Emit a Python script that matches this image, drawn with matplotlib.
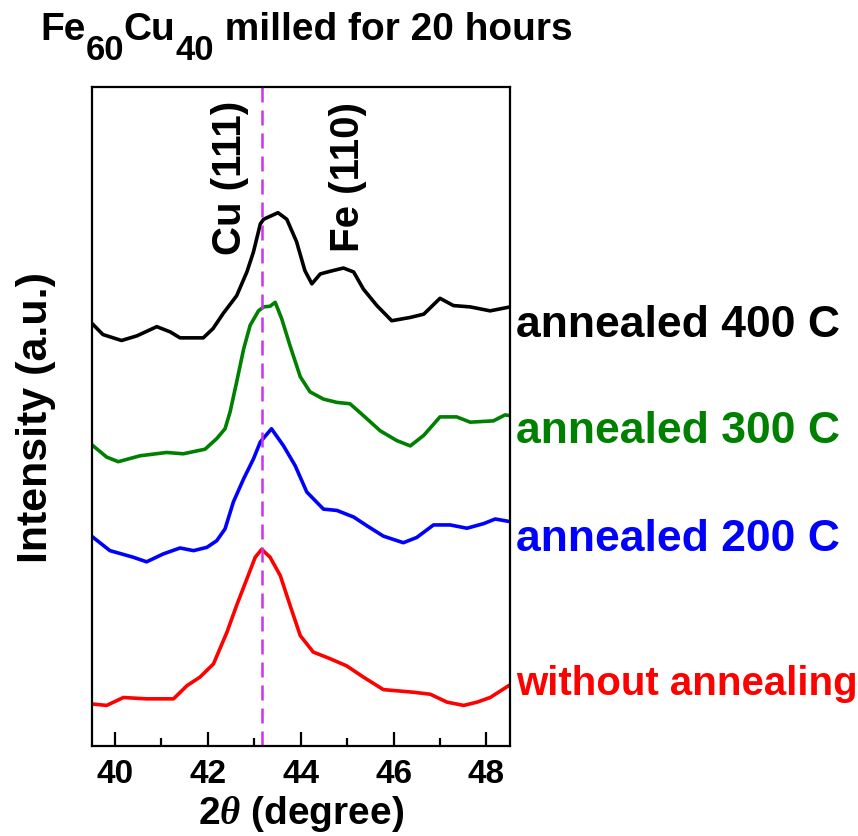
# XRD patterns of Fe60Cu40 milled 20 h, with and without annealing
import matplotlib.pyplot as plt

plt.rcParams['font.family'] = ['Liberation Sans', 'DejaVu Sans']
plt.rcParams['font.weight'] = 'bold'
plt.rcParams['mathtext.fontset'] = 'custom'
plt.rcParams['mathtext.it'] = 'Liberation Serif:italic'
plt.rcParams['mathtext.rm'] = 'Liberation Sans:bold'

# 2theta positions (degree) and intensities (a.u., already stacked)
x_400 = [39.53, 39.74, 40.14, 40.47, 40.90, 41.19, 41.40, 41.90, 42.11, 42.33, 42.62, 42.84,
         42.98, 43.13, 43.20, 43.51, 43.70, 43.91, 44.09, 44.24, 44.42, 44.63, 44.92, 45.14,
         45.35, 45.64, 45.96, 46.36, 46.65, 47.00, 47.29, 47.65, 48.08, 48.51]
y_400 = [63.9, 62.4, 61.5, 62.2, 63.6, 62.8, 61.9, 61.9, 63.3, 65.6, 68.3, 71.9,
         74.9, 79.2, 79.9, 80.9, 79.9, 76.5, 72.1, 70.1, 71.6, 72.0, 72.5, 71.9,
         69.3, 66.8, 64.5, 65.0, 65.5, 67.9, 66.8, 66.6, 66.0, 66.6]

x_300 = [39.53, 39.82, 40.07, 40.54, 41.11, 41.47, 41.94, 42.19, 42.37, 42.48, 42.62, 42.77,
         42.91, 43.09, 43.20, 43.34, 43.45, 43.59, 43.77, 43.99, 44.20, 44.49, 44.78, 45.06,
         45.35, 45.71, 46.07, 46.36, 46.65, 47.00, 47.36, 47.65, 48.15, 48.40, 48.51]
y_300 = [45.5, 43.8, 43.1, 44.0, 44.5, 44.3, 45.0, 46.6, 48.1, 50.7, 55.2, 60.2,
         63.8, 66.0, 66.6, 66.7, 67.3, 64.8, 60.7, 56.0, 53.7, 52.6, 52.1, 51.9,
         50.1, 47.8, 46.3, 45.5, 47.1, 49.9, 49.9, 49.1, 49.3, 50.2, 50.1]

x_200 = [39.53, 39.89, 40.39, 40.68, 41.04, 41.40, 41.69, 41.98, 42.19, 42.37, 42.55, 42.77,
         42.98, 43.13, 43.37, 43.63, 43.88, 44.13, 44.49, 44.78, 45.14, 45.42, 45.78, 46.21,
         46.50, 46.86, 47.22, 47.58, 47.94, 48.19, 48.51]
y_200 = [31.6, 29.6, 28.6, 27.9, 29.1, 30.0, 29.6, 30.1, 31.1, 32.9, 37.0, 40.5,
         43.5, 46.1, 48.1, 45.5, 42.5, 38.5, 35.9, 35.7, 34.7, 33.4, 31.8, 30.8,
         31.6, 33.5, 33.5, 33.0, 33.7, 34.4, 34.0]

x_raw = [39.53, 39.82, 40.18, 40.68, 41.26, 41.55, 41.83, 42.12, 42.41, 42.62, 42.84, 43.02,
         43.16, 43.34, 43.56, 43.77, 43.99, 44.27, 44.63, 44.99, 45.35, 45.78, 46.43, 46.79,
         47.15, 47.51, 47.80, 48.08, 48.48]
y_raw = [6.3, 6.1, 7.3, 7.1, 7.1, 9.1, 10.4, 12.4, 17.2, 21.3, 25.3, 28.6,
         29.8, 28.6, 25.8, 21.3, 16.7, 14.2, 13.2, 12.1, 10.4, 8.5, 8.1, 7.8,
         6.6, 6.1, 6.6, 7.3, 9.1]

labels = ['annealed 400 C', 'annealed 300 C', 'annealed 200 C', 'without annealing']
colors = ['black', '#008000', '#0000ff', '#ff0000']
label_y = [64.0, 47.8, 31.4, 9.5]
label_size = [32, 32, 32, 29]
cu111 = 43.16

fig = plt.figure(figsize=(8.58, 8.37), dpi=100)
ax = fig.add_axes([0.107, 0.108, 0.487, 0.787])

data = [(x_400, y_400), (x_300, y_300), (x_200, y_200), (x_raw, y_raw)]
for (xs, ys), c in zip(data, colors):
    ax.plot(xs, ys, '-', color=c, lw=2.6)

ax.axvline(cu111, color='#cc33ee', lw=1.8, linestyle=(0, (6, 3.2)))

ax.set_xlim(39.5, 48.5)
ax.set_ylim(0, 100)
ax.set_xticks([40, 42, 44, 46, 48])
ax.set_xticks([41, 43, 45, 47], minor=True)
ax.set_yticks([])
ax.tick_params(axis='x', which='major', direction='in', length=10, width=1.6, pad=9, labelsize=24)
ax.tick_params(axis='x', which='minor', direction='in', length=6, width=1.6)
for s in ax.spines.values():
    s.set_linewidth(1.6)

ax.set_xlabel(r'2$\mathit{\theta}$ (degree)', fontsize=28, fontweight='bold', labelpad=3)
ax.set_ylabel('Intensity (a.u.)', fontsize=31, fontweight='bold', labelpad=26)

# curve labels to the right of the frame
for lab, c, yy, fs in zip(labels, colors, label_y, label_size):
    ax.text(1.015, yy, lab, color=c, fontsize=fs, fontweight='bold',
            transform=ax.get_yaxis_transform(), ha='left', va='center')

# peak labels
ax.text(42.48, 86.3, 'Cu (111)', rotation=90, fontsize=29, fontweight='bold', ha='center', va='center')
ax.text(45.01, 86.4, 'Fe (110)', rotation=90, fontsize=29, fontweight='bold', ha='center', va='center')

# title with big subscripts, pieces chained one after another
renderer = fig.canvas.get_renderer()
W, H = fig.bbox.width, fig.bbox.height
pieces = [('Fe', 0), ('60', -20), ('Cu', 0), ('40', -20), (' milled for 20 hours', 0)]
xpos = 40
for txt, dy in pieces:
    size = 28 if dy == 0 else 25
    t = fig.text(xpos / W, (H - 40 + dy) / H, txt, fontsize=size, fontweight='bold', va='baseline')
    xpos = t.get_window_extent(renderer).x1

fig.savefig('out.png', dpi=100)
